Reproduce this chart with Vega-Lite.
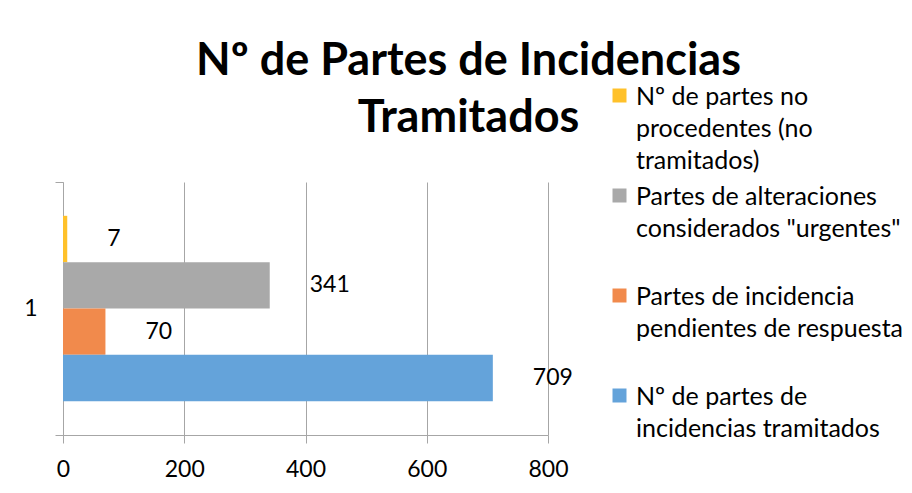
{
  "$schema": "https://vega.github.io/schema/vega-lite/v6.json",
  "autosize": {"type": "none"},
  "width": 485,
  "height": 253,
  "padding": {"left": 63, "top": 182, "right": 364, "bottom": 58},
  "background": "white",
  "config": {
    "font": "Lato",
    "view": {"stroke": null},
    "style": {"guide-label": {"lineHeight": 32}}
  },
  "title": {
    "text": ["Nº de Partes de Incidencias", "Tramitados"],
    "fontSize": 45,
    "fontWeight": "bold",
    "font": "Lato",
    "color": "#000000",
    "lineHeight": 57,
    "anchor": "middle",
    "dx": 163,
    "offset": -58
  },
  "data": {
    "values": [
      {"cat": "1", "serie": "Nº de partes no procedentes (no tramitados)", "valor": 7},
      {"cat": "1", "serie": "Partes de alteraciones considerados \"urgentes\"", "valor": 341},
      {"cat": "1", "serie": "Partes de incidencia pendientes de respuesta", "valor": 70},
      {"cat": "1", "serie": "Nº de partes de incidencias tramitados", "valor": 709}
    ]
  },
  "encoding": {
    "y": {
      "field": "cat",
      "type": "nominal",
      "title": null,
      "scale": {"paddingInner": 0, "paddingOuter": 0},
      "axis": {
        "tickBand": "extent",
        "domainColor": "#a6a6a6",
        "tickColor": "#a6a6a6",
        "tickSize": 8,
        "labelFontSize": 23,
        "labelColor": "#000000",
        "labelPadding": 18,
        "labelAngle": 0,
        "grid": false
      }
    },
    "yOffset": {
      "field": "serie",
      "type": "nominal",
      "sort": [
        "Nº de partes no procedentes (no tramitados)",
        "Partes de alteraciones considerados \"urgentes\"",
        "Partes de incidencia pendientes de respuesta",
        "Nº de partes de incidencias tramitados"
      ],
      "scale": {"paddingInner": 0, "paddingOuter": 0.73}
    },
    "x": {
      "field": "valor",
      "type": "quantitative",
      "title": null,
      "scale": {"domain": [0, 800], "nice": false},
      "axis": {
        "values": [0, 200, 400, 600, 800],
        "grid": true,
        "gridColor": "#a6a6a6",
        "domainColor": "#a6a6a6",
        "tickColor": "#a6a6a6",
        "tickSize": 8,
        "labelFontSize": 23,
        "labelColor": "#000000",
        "labelPadding": 15,
        "labelFlush": false
      }
    }
  },
  "layer": [
    {
      "mark": {"type": "bar"},
      "encoding": {
        "color": {
          "field": "serie",
          "type": "nominal",
          "scale": {
            "domain": [
              "Nº de partes no procedentes (no tramitados)",
              "Partes de alteraciones considerados \"urgentes\"",
              "Partes de incidencia pendientes de respuesta",
              "Nº de partes de incidencias tramitados"
            ],
            "range": ["#FFC12A", "#A9A9A9", "#F18A4C", "#64A3DA"]
          },
          "legend": {
            "title": null,
            "orient": "none",
            "legendX": 544,
            "legendY": -99,
            "symbolType": "square",
            "symbolSize": 196,
            "symbolStrokeWidth": 0,
            "symbolOpacity": 1,
            "labelFontSize": 25,
            "labelColor": "#000000",
            "labelOffset": 4,
            "labelLimit": 400,
            "labelBaseline": "top",
            "rowPadding": 9,
            "encode": {"labels": {"update": {"dy": {"value": -11}}}},
            "labelExpr": "datum.value == 'Nº de partes no procedentes (no tramitados)' ? ['Nº de partes no', 'procedentes (no', 'tramitados)'] : datum.value == 'Nº de partes de incidencias tramitados' ? ['Nº de partes de', 'incidencias tramitados', ''] : datum.value == 'Partes de incidencia pendientes de respuesta' ? ['Partes de incidencia', 'pendientes de respuesta', ''] : ['Partes de alteraciones', 'considerados \"urgentes\"', '']"
          }
        }
      }
    },
    {
      "mark": {"type": "text", "align": "left", "baseline": "middle", "dx": 40, "fontSize": 23, "color": "#000000"},
      "encoding": {
        "text": {"field": "valor", "type": "quantitative"}
      }
    }
  ]
}
